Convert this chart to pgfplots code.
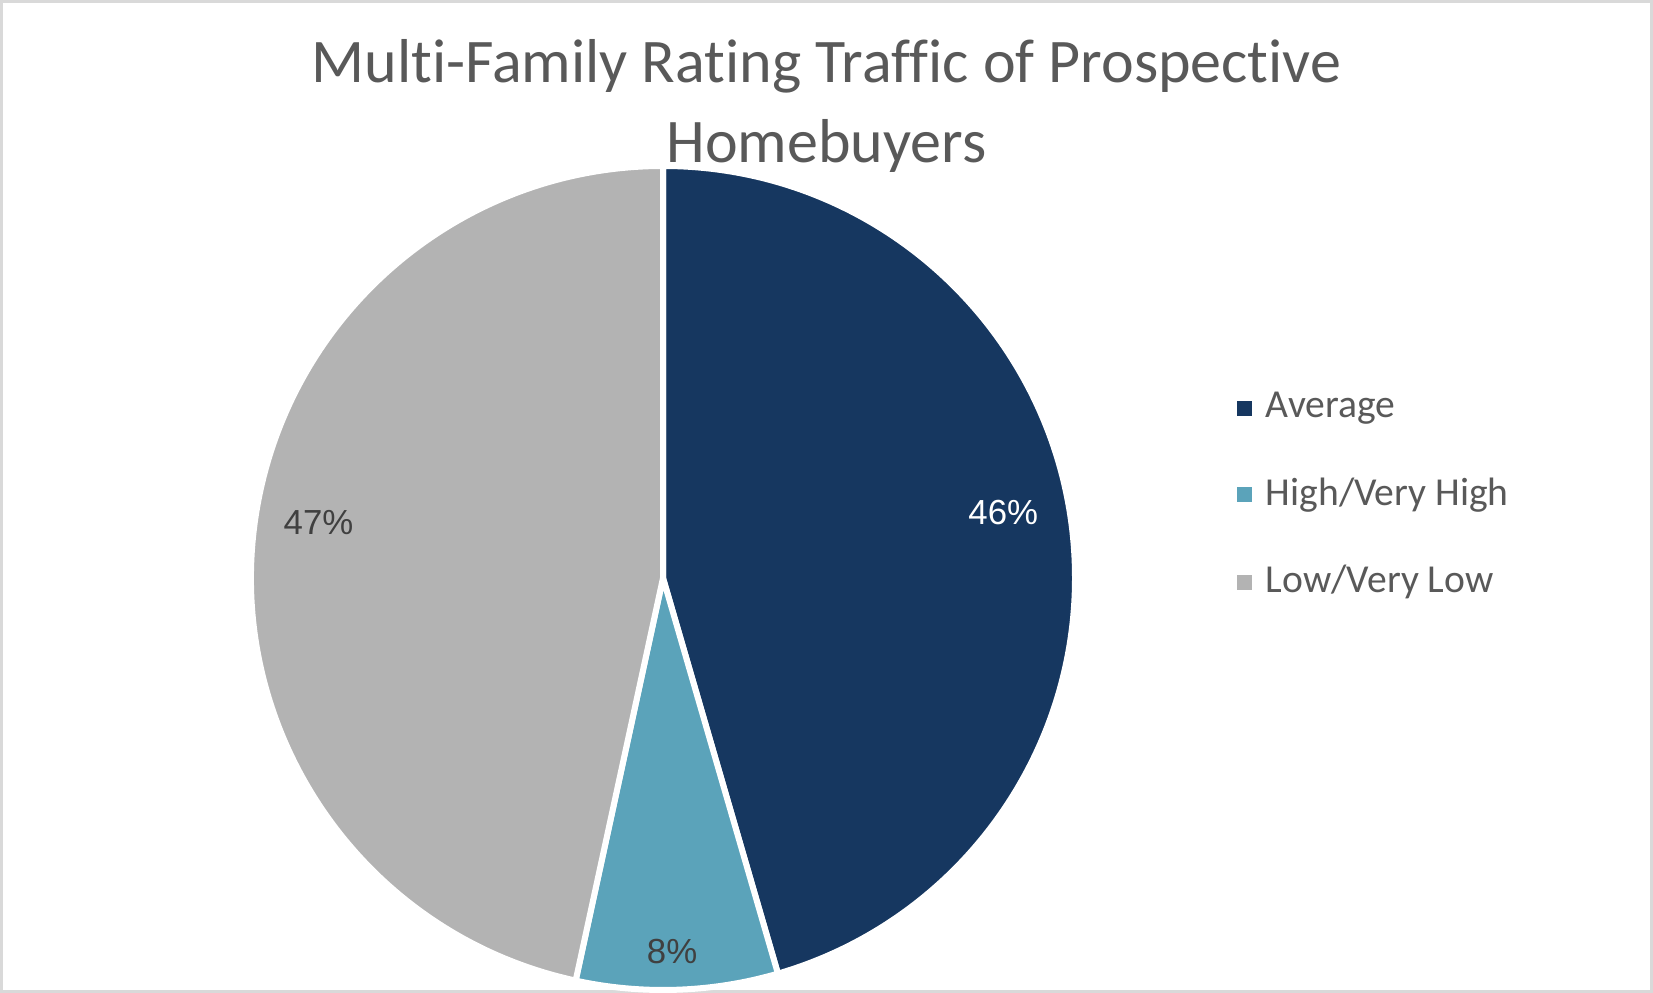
\documentclass[border=0pt]{standalone}
\usepackage{pgfplots}
\pgfplotsset{compat=1.18}
\usepackage{pgfplotstable}
\usepackage{fontspec}
\setmainfont{Carlito}
\newfontfamily\titlefont[Ligatures={NoCommon}]{Carlito}
\newfontfamily\labelfont{Liberation Sans}

\definecolor{cAvg}{HTML}{163760}
\definecolor{cHigh}{HTML}{5BA3BA}
\definecolor{cLow}{HTML}{B3B3B3}
\definecolor{ttl}{HTML}{595959}
\definecolor{lbl}{HTML}{404040}
\definecolor{frm}{HTML}{D9D9D9}

% shares in percent, clockwise from 12 o'clock
\pgfplotstableread{
share
45.5
7.9
46.6
}\piedata

\begin{document}
\begin{tikzpicture}
\useasboundingbox (0,0) rectangle (413.25bp,248.25bp);
\fill[white] (0,0) rectangle (413.25bp,248.25bp);
\draw[frm, line width=0.75bp] (0.375bp,0.375bp) rectangle (412.875bp,247.875bp);

\pgfplotstablegetelem{0}{share}\of\piedata \let\sA\pgfplotsretval
\pgfplotstablegetelem{1}{share}\of\piedata \let\sB\pgfplotsretval
\pgfplotstablegetelem{2}{share}\of\piedata \let\sC\pgfplotsretval
\pgfmathsetmacro\aA{90}
\pgfmathsetmacro\aB{90-3.6*\sA}
\pgfmathsetmacro\aC{\aB-3.6*\sB}
\pgfmathsetmacro\aD{\aC-3.6*\sC}

\begin{axis}[
  at={(165.75bp,103.75bp)}, anchor=origin,
  scale only axis, width=206bp, height=206bp,
  xmin=-1, xmax=1, ymin=-1, ymax=1,
  hide axis, clip=false,
  legend image code/.code={\fill[#1, draw=none] (0bp,-1.875bp) rectangle (3.75bp,1.875bp);},
  legend cell align=left,
  legend style={at={(1.196,0.6)}, anchor=west, draw=none, fill=none,
    font=\fontsize{9.9bp}{11.5bp}\selectfont, text=ttl,
    row sep=13.5bp, inner sep=0pt,
    nodes={inner xsep=3.4bp, inner ysep=0pt}},
]
\fill[cAvg, draw=white, line width=1.5bp] (axis cs:0,0) -- ({cos(\aA)},{sin(\aA)}) arc[start angle=\aA, end angle=\aB, radius=103bp] -- cycle;
\fill[cHigh, draw=white, line width=1.5bp] (axis cs:0,0) -- ({cos(\aB)},{sin(\aB)}) arc[start angle=\aB, end angle=\aC, radius=103bp] -- cycle;
\fill[cLow, draw=white, line width=1.5bp] (axis cs:0,0) -- ({cos(\aC)},{sin(\aC)}) arc[start angle=\aC, end angle=\aD, radius=103bp] -- cycle;

\addlegendimage{fill=cAvg}
\addlegendentry{Average}
\addlegendimage{fill=cHigh}
\addlegendentry{High/Very High}
\addlegendimage{fill=cLow}
\addlegendentry{Low/Very Low}

\node[font=\labelfont\fontsize{8.7bp}{10bp}\selectfont, text=white] at (axis cs:0.826,0.159) {46\%};
\node[font=\labelfont\fontsize{8.7bp}{10bp}\selectfont, text=lbl] at (axis cs:0.022,-0.907) {8\%};
\node[font=\labelfont\fontsize{8.7bp}{10bp}\selectfont, text=lbl] at (axis cs:-0.836,0.135) {47\%};
\end{axis}

\node[anchor=base, font=\titlefont\fontsize{15.5bp}{18bp}\selectfont, text=ttl, inner sep=0pt] at (206.625bp,227.5bp) {Multi-Family Rating Traffic of Prospective};
\node[anchor=base, font=\titlefont\fontsize{15.5bp}{18bp}\selectfont, text=ttl, inner sep=0pt] at (206.625bp,207.5bp) {Homebuyers};
\end{tikzpicture}
\end{document}
